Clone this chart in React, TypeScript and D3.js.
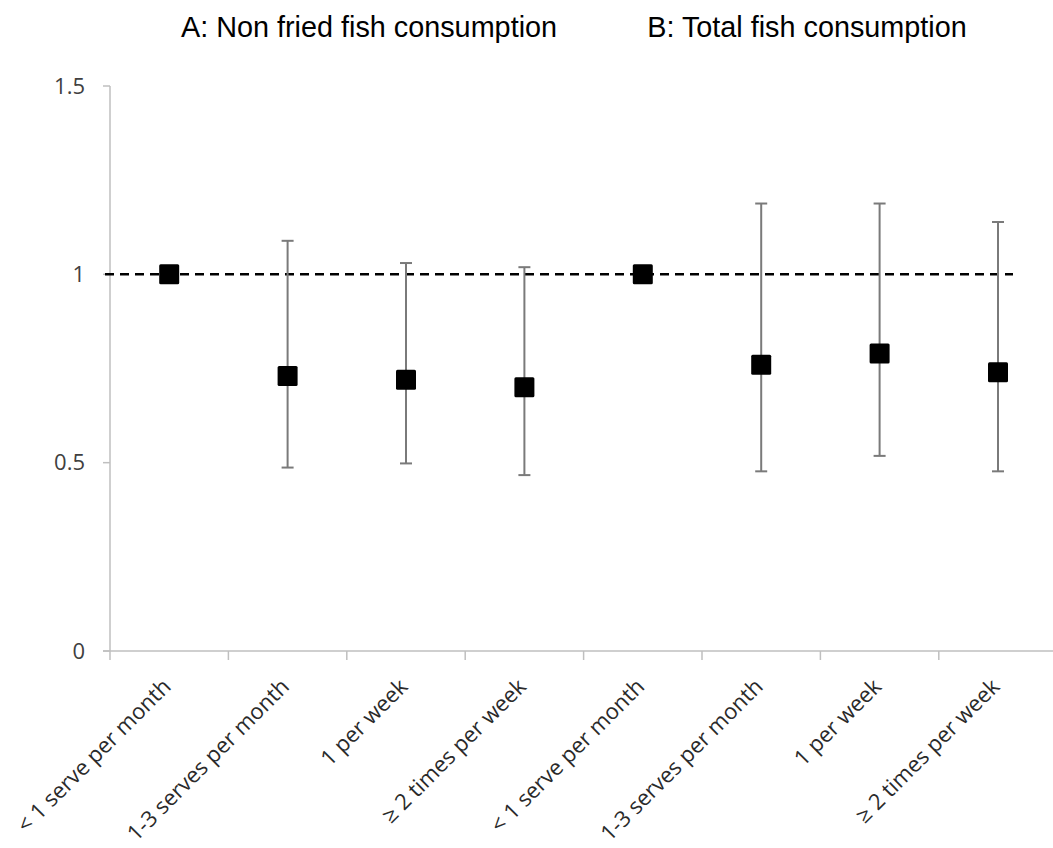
import React from "react";
import * as d3 from "d3";

const categories = [
  "< 1 serve per month",
  "1-3 serves per month",
  "1 per week",
  "≥ 2 times per week",
  "< 1 serve per month",
  "1-3 serves per month",
  "1 per week",
  "≥ 2 times per week",
];
const estimates = [1.0, 0.73, 0.72, 0.7, 1.0, 0.76, 0.79, 0.74];
const lowerCI: (number | null)[] = [null, 0.487, 0.498, 0.467, null, 0.477, 0.518, 0.477];
const upperCI: (number | null)[] = [null, 1.089, 1.03, 1.019, null, 1.188, 1.188, 1.139];
const yTicks = [0, 0.5, 1, 1.5];
const yTickLabels = ["0", "0.5", "1", "1.5"];
const panelTitles = ["A: Non fried fish consumption", "B: Total fish consumption"];
const referenceValue = 1;

export default function App() {
  const width = 1053;
  const height = 848;
  const x0 = 110;
  const step = 118.4;
  const x = d3
    .scaleBand<number>()
    .domain(categories.map((_, i) => i))
    .range([x0, x0 + step * categories.length])
    .paddingInner(0)
    .paddingOuter(0);
  const y = d3.scaleLinear().domain([0, 1.5]).range([651, 86]);
  const cx = (i: number) => (x(i) as number) + x.bandwidth() / 2;
  const axisColor = "#bfbfbf";
  const labelFont = "'Open Sans', 'Liberation Sans', sans-serif";
  const titleFont = "'Liberation Sans', Arial, sans-serif";
  const ms = 20;

  return (
    <svg
      width={width}
      height={height}
      style={{ position: "absolute", left: 0, top: 0, background: "#fff" }}
    >
      {/* titles */}
      <text x={369} y={36.5} textAnchor="middle" fontFamily={titleFont} fontSize={28.8} fill="#000">
        {panelTitles[0]}
      </text>
      <text x={807} y={36.5} textAnchor="middle" fontFamily={titleFont} fontSize={28.8} fill="#000">
        {panelTitles[1]}
      </text>

      {/* y axis */}
      <line x1={x0} x2={x0} y1={y(1.5)} y2={y(0)} stroke={axisColor} strokeWidth={1.5} />
      {yTicks.map((t, i) => (
        <g key={"yt" + i}>
          <line x1={x0 - 7} x2={x0} y1={y(t)} y2={y(t)} stroke={axisColor} strokeWidth={1.5} />
          <text
            x={85}
            y={y(t)}
            dy="0.35em"
            textAnchor="end"
            fontFamily={labelFont}
            fontSize={22}
            fill="#404040"
          >
            {yTickLabels[i]}
          </text>
        </g>
      ))}

      {/* x axis */}
      <line x1={x0 - 7} x2={x0 + step * categories.length} y1={y(0)} y2={y(0)} stroke={axisColor} strokeWidth={1.5} />
      {categories.map((_, i) => (
        <line
          key={"xt" + i}
          x1={x(i) as number}
          x2={x(i) as number}
          y1={y(0)}
          y2={y(0) + 9}
          stroke={axisColor}
          strokeWidth={1.5}
        />
      ))}
      {categories.map((c, i) => (
        <text
          key={"xl" + i}
          transform={`translate(${cx(i) + 3},${y(0) + 37}) rotate(-45)`}
          textAnchor="end"
          fontFamily={labelFont}
          fontSize={22}
          fill="#2a2a2a"
        >
          {c}
        </text>
      ))}

      {/* reference line */}
      <line
        x1={x0 - 5}
        x2={1013}
        y1={y(referenceValue)}
        y2={y(referenceValue)}
        stroke="#000"
        strokeWidth={2.5}
        strokeDasharray="9,6"
      />

      {/* error bars */}
      {categories.map((_, i) => {
        const lo = lowerCI[i];
        const hi = upperCI[i];
        if (lo == null || hi == null) return null;
        return (
          <g key={"eb" + i} stroke="#7a7a7a" strokeWidth={2}>
            <line x1={cx(i)} x2={cx(i)} y1={y(hi)} y2={y(lo)} />
            <line x1={cx(i) - 6} x2={cx(i) + 6} y1={y(hi)} y2={y(hi)} />
            <line x1={cx(i) - 6} x2={cx(i) + 6} y1={y(lo)} y2={y(lo)} />
          </g>
        );
      })}

      {/* markers */}
      {estimates.map((v, i) => (
        <rect
          key={"m" + i}
          x={cx(i) - ms / 2}
          y={y(v) - ms / 2}
          width={ms}
          height={ms}
          rx={1.5}
          fill="#000"
        />
      ))}
    </svg>
  );
}
